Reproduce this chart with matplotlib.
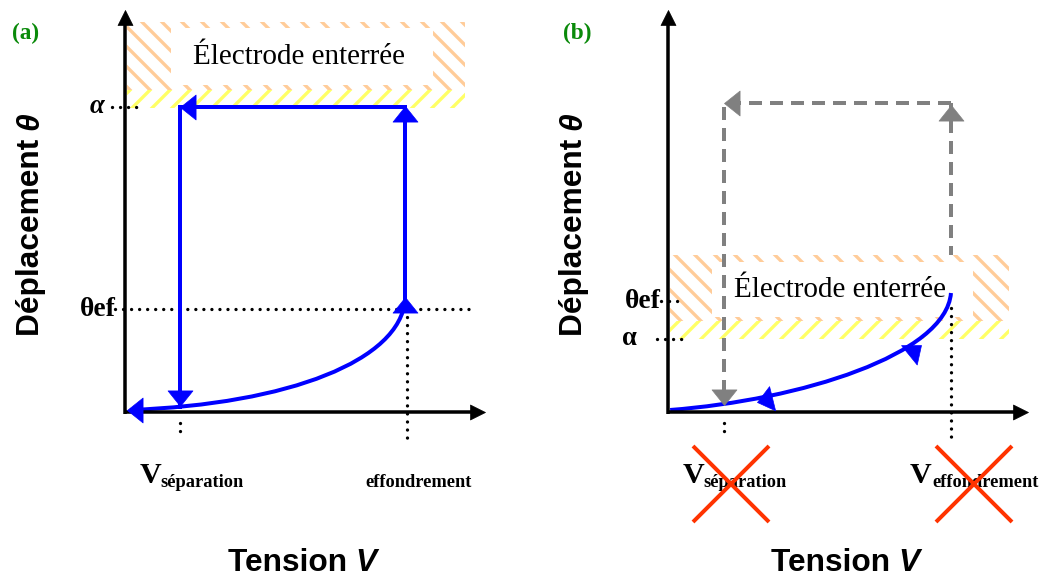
import matplotlib
matplotlib.use('Agg')
import matplotlib.pyplot as plt
from matplotlib.path import Path
from matplotlib.patches import PathPatch, Rectangle
from matplotlib.markers import MarkerStyle
from matplotlib.transforms import Affine2D

plt.rcParams['hatch.linewidth'] = 2.0

W, H, DPI = 1041, 578, 120

# ---------------- data (schematic units: V along x, theta along y, axis length = 1) ----
# panel (a)
a_V_sep = 0.153
a_V_ef = 0.778
a_theta_ef = 0.256
a_alpha = 0.759
a_curve_V = [0.014, 0.458, 0.764, 0.778]          # cubic Bezier control points
a_curve_theta = [0.005, 0.020, 0.129, 0.279]
a_loop_V = [0.778, 0.778, 0.153, 0.153]           # collapse / release path
a_loop_theta = [0.279, 0.759, 0.759, 0.012]
a_heads_V = [0.778, 0.778, 0.153, 0.153, 0.006]
a_heads_theta = [0.287, 0.762, 0.759, 0.014, 0.005]
a_heads_dir = [90, 90, 180, 270, 180]
a_elec_V = [0.006, 0.944]
a_elec_yellow = [0.756, 0.801]
a_elec_top = 0.970
a_white_V = [0.128, 0.856]
a_white_theta = [0.813, 0.955]

# panel (b)
b_V_sep = 0.156
b_V_ef = 0.786
b_theta_ef = 0.276
b_alpha = 0.182
b_top = 0.769
b_curve_V = [0.006, 0.367, 0.772, 0.786]
b_curve_theta = [0.005, 0.030, 0.142, 0.296]
b_heads_V = [0.703, 0.247]
b_heads_theta = [0.167, 0.025]
b_heads_dir = [39, 194]
b_gray_V = [0.786, 0.156, 0.156]
b_gray_theta = [0.769, 0.769, 0.017]
b_gray_heads_V = [0.786, 0.156, 0.156]
b_gray_heads_theta = [0.764, 0.769, 0.017]
b_gray_heads_dir = [90, 180, 270]
b_elec_V = [0.006, 0.947]
b_elec_yellow = [0.182, 0.226]
b_elec_top = 0.391
b_white_V = [0.122, 0.847]
b_white_theta = [0.236, 0.373]
b_cross_V = [0.176, 0.850]
b_cross_theta = [-0.178, -0.178]

BLUE = '#0000ff'
GRAY = '#808080'
ORANGE = '#ffcc99'
YELLOW = '#ffff66'
RED = '#ff3300'
SERIF = 'Liberation Serif'
SANS = 'Liberation Sans'

HEAD = Path([(0, 0), (-0.8, -1), (0.8, -1), (0, 0)],
            [Path.MOVETO, Path.LINETO, Path.LINETO, Path.CLOSEPOLY])
AXHEAD = Path([(0, 0), (-0.5, -1), (0.5, -1), (0, 0)],
              [Path.MOVETO, Path.LINETO, Path.LINETO, Path.CLOSEPOLY])

fig = plt.figure(figsize=(W / DPI, H / DPI), dpi=DPI)


def make_axes(x0px, x1px, ox, oy, ux=360.0, uy=402.0):
    ax = fig.add_axes([x0px / W, 0, (x1px - x0px) / W, 1])
    ax.set_xlim((x0px - ox) / ux, (x1px - ox) / ux)
    ax.set_ylim((oy - H) / uy, oy / uy)
    ax.axis('off')
    return ax


def heads(ax, xs, ys, dirs, color, shape=HEAD, ms=18.7, z=7):
    for x, y, d in zip(xs, ys, dirs):
        m = MarkerStyle(shape, transform=Affine2D().rotate_deg(d - 90))
        ax.plot([x], [y], marker=m, ms=ms, color=color, mfc=color, mec=color,
                mew=0.4, linestyle='none', zorder=z)


def dotted(ax, xs, ys):
    ax.plot(xs, ys, color='black', lw=2.0, linestyle=(0, (0.01, 2.4)),
            dash_capstyle='round', zorder=3)


def draw_axes(ax):
    ax.plot([0, 0.975], [0, 0], color='black', lw=2.1, solid_capstyle='butt', zorder=6)
    ax.plot([0, 0], [-0.004, 0.975], color='black', lw=2.1, solid_capstyle='butt', zorder=6)
    heads(ax, [1.0, 0.0], [0.0, 1.0], [0, 90], 'black', shape=AXHEAD, ms=18, z=6)


def electrode(ax, ev, ey, etop, wv, wt):
    ax.add_patch(Rectangle((ev[0], ey[1]), ev[1] - ev[0], etop - ey[1], facecolor='white',
                           edgecolor=ORANGE, hatch='\\\\', linewidth=0, zorder=1))
    ax.add_patch(Rectangle((ev[0], ey[0]), ev[1] - ev[0], ey[1] - ey[0], facecolor='white',
                           edgecolor=YELLOW, hatch='//', linewidth=0, zorder=1))
    ax.add_patch(Rectangle((wv[0], wt[0]), wv[1] - wv[0], wt[1] - wt[0], facecolor='white',
                           edgecolor='none', linewidth=0, zorder=1.5))
    ax.text((wv[0] + wv[1]) / 2 - 0.008, (wt[0] + wt[1]) / 2, 'Électrode enterrée',
            family=SERIF, fontsize=17.5, ha='center', va='center', zorder=2)


def bezier(ax, vs, ts, color):
    p = Path(list(zip(vs, ts)), [Path.MOVETO, Path.CURVE4, Path.CURVE4, Path.CURVE4])
    ax.add_patch(PathPatch(p, fill=False, edgecolor=color, lw=2.4, capstyle='butt', zorder=5))


def labels_common(ax, tag, tagx):
    ax.text(tagx, 0.942, tag, family=SERIF, weight='bold', fontsize=14, color='#0a8a0a',
            ha='left', va='center')
    t1 = ax.text(-0.262, 0.19, 'Déplacement ', family=SANS, weight='bold', fontsize=19,
                 rotation=90, ha='center', va='bottom', rotation_mode='default')
    ax.annotate('θ', xy=(0.5, 1), xycoords=t1, family=SANS, weight='bold', style='italic',
                fontsize=19, rotation=90, ha='center', va='bottom')
    t2 = ax.text(0.285, -0.3955, 'Tension ', family=SANS, weight='bold', fontsize=19,
                 ha='left', va='baseline')
    ax.annotate('V', xy=(1, 0), xycoords=t2, family=SANS, weight='bold', style='italic',
                fontsize=19, ha='left', va='bottom')


# ======================= panel (a) =======================
axa = make_axes(0, 520.5, 125, 412)
draw_axes(axa)
electrode(axa, a_elec_V, a_elec_yellow, a_elec_top, a_white_V, a_white_theta)
bezier(axa, a_curve_V, a_curve_theta, BLUE)
axa.plot(a_loop_V, a_loop_theta, color=BLUE, lw=2.4, solid_joinstyle='miter', zorder=5)
heads(axa, a_heads_V, a_heads_theta, a_heads_dir, BLUE)

dotted(axa, [-0.028, 0.972], [a_theta_ef, a_theta_ef])
dotted(axa, [a_V_ef + 0.005, a_V_ef + 0.005], [a_theta_ef, -0.068])
dotted(axa, [a_V_sep, a_V_sep], [-0.028, -0.068])
dotted(axa, [-0.036, 0.042], [a_alpha, a_alpha])

axa.text(-0.058, a_alpha, 'α', family=SERIF, weight='bold', style='italic', fontsize=16,
         ha='right', va='center')
axa.text(-0.027, a_theta_ef, 'θef', family=SERIF, weight='bold', fontsize=16.5,
         ha='right', va='center')
axa.text(a_V_sep - 0.111, -0.177, 'V', family=SERIF, weight='bold', fontsize=18,
         ha='left', va='baseline')
axa.text(a_V_sep - 0.056, -0.187, 'séparation', family=SERIF, weight='bold', fontsize=11,
         ha='left', va='baseline')
axa.text(a_V_ef - 0.111, -0.187, 'effondrement', family=SERIF, weight='bold', fontsize=11,
         ha='left', va='baseline')
labels_common(axa, '(a)', -0.313)

# ======================= panel (b) =======================
axb = make_axes(520.5, 1041, 668, 412)
draw_axes(axb)
electrode(axb, b_elec_V, b_elec_yellow, b_elec_top, b_white_V, b_white_theta)
dash = (0, (3.25, 2.0))
axb.plot([b_V_ef, b_V_ef], [b_theta_ef, b_top], color=GRAY, lw=2.4, linestyle=dash,
         zorder=0.5)
axb.plot(b_gray_V, b_gray_theta, color=GRAY, lw=2.4, linestyle=dash, zorder=4)
heads(axb, b_gray_heads_V, b_gray_heads_theta, b_gray_heads_dir, GRAY)
bezier(axb, b_curve_V, b_curve_theta, BLUE)
heads(axb, b_heads_V, b_heads_theta, b_heads_dir, BLUE)

dotted(axb, [b_V_ef, b_V_ef], [0.258, -0.068])
dotted(axb, [b_V_sep, b_V_sep], [-0.028, -0.068])
dotted(axb, [-0.031, 0.042], [b_alpha, b_alpha])
dotted(axb, [-0.020, 0.042], [b_theta_ef, b_theta_ef])

axb.text(-0.086, b_alpha, 'α', family=SERIF, weight='bold', fontsize=16,
         ha='right', va='center')
axb.text(-0.020, b_theta_ef, 'θef', family=SERIF, weight='bold', fontsize=16.5,
         ha='right', va='center')
axb.text(b_V_sep - 0.114, -0.177, 'V', family=SERIF, weight='bold', fontsize=18,
         ha='left', va='baseline')
axb.text(b_V_sep - 0.059, -0.187, 'séparation', family=SERIF, weight='bold', fontsize=11,
         ha='left', va='baseline')
axb.text(b_V_ef - 0.114, -0.177, 'V', family=SERIF, weight='bold', fontsize=18,
         ha='left', va='baseline')
axb.text(b_V_ef - 0.053, -0.187, 'effondrement', family=SERIF, weight='bold', fontsize=11,
         ha='left', va='baseline')
axb.plot(b_cross_V, b_cross_theta, linestyle='none', marker='x', ms=46, mew=2.4,
         color=RED, zorder=8)
labels_common(axb, '(b)', -0.292)

fig.savefig('out.png', dpi=DPI)
